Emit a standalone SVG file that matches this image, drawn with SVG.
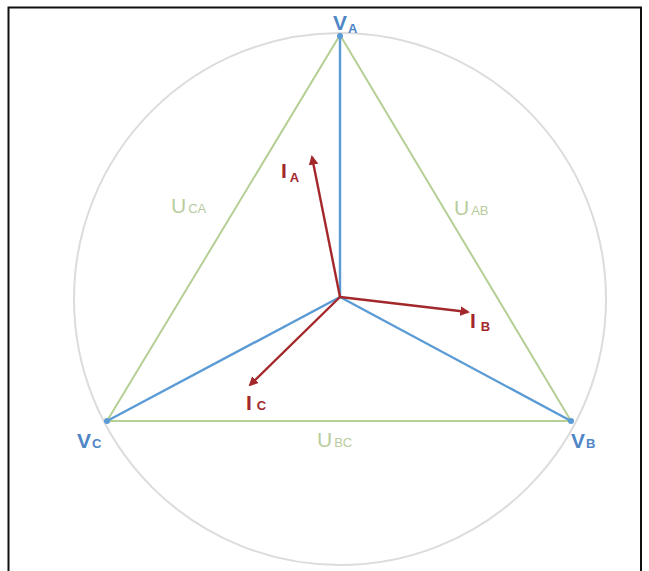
<svg xmlns="http://www.w3.org/2000/svg" width="649" height="571" viewBox="0 0 649 571">
<style>
.frame{fill:none;stroke:#111;stroke-width:2}
.circ{fill:none;stroke:#dcdcdc;stroke-width:2}
.tri{stroke:#b5cf95;stroke-width:2;fill:none}
.ph{stroke:#5b9bd5;stroke-width:2.4;fill:none}
.cur{stroke:#a3282b;stroke-width:2.4;fill:none;marker-end:url(#ah)}
.v{font-family:"Liberation Sans",Arial,sans-serif;font-weight:bold;fill:#4f86c6}
.u{font-family:"Liberation Sans",Arial,sans-serif;fill:#b9cc9e}
.i{font-family:"Liberation Sans",Arial,sans-serif;font-weight:bold;fill:#a3282b}
.big{font-size:21px}
.sub{font-size:13px}
.dot{fill:#5b9bd5}
</style>
<defs>
<marker id="ah" viewBox="0 0 10 10" refX="8" refY="5" markerWidth="4" markerHeight="4" orient="auto" markerUnits="strokeWidth">
<path d="M0,0 L10,5 L0,10 z" fill="#a3282b"/>
</marker>
</defs>
<rect width="649" height="571" fill="#fff"/>
<path class="frame" d="M8.5,575 V7.5 H641 V575"/>
<circle class="circ" cx="340" cy="299" r="266"/>
<g id="connectors">
<path class="tri" d="M340,35 L571,421 L107,421 Z"/>
<line class="ph" x1="340" y1="297" x2="340" y2="35"/>
<line class="ph" x1="340" y1="297" x2="571" y2="421"/>
<line class="ph" x1="340" y1="297" x2="107" y2="421"/>
<line class="cur" x1="340" y1="297" x2="312" y2="157"/>
<line class="cur" x1="340" y1="297" x2="468" y2="312"/>
<line class="cur" x1="340" y1="297" x2="250" y2="385"/>
</g>
<g id="VA"><circle class="dot" cx="340" cy="36" r="3"/><text class="v" x="333" y="30"><tspan class="big">V</tspan><tspan class="sub" dx="1" dy="3">A</tspan></text></g>
<g id="VB"><circle class="dot" cx="571" cy="421" r="3"/><text class="v" x="571" y="448"><tspan class="big">V</tspan><tspan class="sub" dx="1" dy="0">B</tspan></text></g>
<g id="VC"><circle class="dot" cx="107" cy="421" r="3"/><text class="v" x="77" y="448"><tspan class="big">V</tspan><tspan class="sub" dx="1" dy="0">C</tspan></text></g>
<g id="IA"><text class="i" x="281" y="178"><tspan class="big">I</tspan><tspan class="sub" dx="3" dy="4">A</tspan></text></g>
<g id="IB"><text class="i" x="470" y="328"><tspan class="big">I</tspan><tspan class="sub" dx="5" dy="3">B</tspan></text></g>
<g id="IC"><text class="i" x="246" y="410"><tspan class="big">I</tspan><tspan class="sub" dx="5" dy="0">C</tspan></text></g>
<g id="UAB"><text class="u" x="454" y="215"><tspan class="big">U</tspan><tspan class="sub" dx="2">AB</tspan></text></g>
<g id="UBC"><text class="u" x="317" y="447"><tspan class="big">U</tspan><tspan class="sub" dx="2">BC</tspan></text></g>
<g id="UCA"><text class="u" x="171" y="213"><tspan class="big">U</tspan><tspan class="sub" dx="2">CA</tspan></text></g>
</svg>
